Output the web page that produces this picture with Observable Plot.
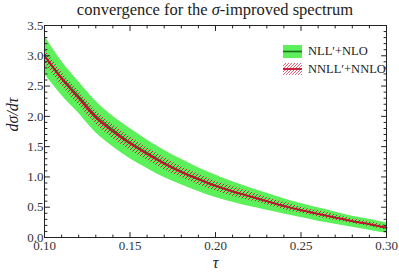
<!DOCTYPE html>
<html>
<head>
<meta charset="utf-8">
<script src="https://cdn.jsdelivr.net/npm/d3@7"></script>
<script src="https://cdn.jsdelivr.net/npm/@observablehq/plot@0.6"></script>
<style>
  body { margin: 0; background: white; }
  #wrap { position: relative; width: 399px; height: 279px; font-family: "Liberation Serif", "DejaVu Serif", serif; color: #222; }
  #title { position: absolute; left: 0; top: 0; width: 399px; height: 20px; line-height: 20px; box-sizing: border-box; padding-left: 44px; padding-right: 13px; text-align: center; font-size: 16.5px; white-space: nowrap; }
  #legend { position: absolute; left: 283px; top: 42px; font-size: 12.5px; }
  #legend .row { display: flex; align-items: center; height: 18px; }
  #legend svg { margin-right: 6px; }
</style>
</head>
<body>
<div id="wrap">
  <div id="chart"></div>
  <div id="title">convergence for the <i>σ</i>-improved spectrum</div>
  <div id="legend">
    <div class="row">
      <svg width="19" height="13">
        <rect x="0" y="0" width="19" height="13" fill="#5cf05a"></rect>
        <line x1="0" x2="19" y1="6.5" y2="6.5" stroke="#1e6e1e" stroke-width="1.6"></line>
      </svg>
      <span>NLL′+NLO</span>
    </div>
    <div class="row">
      <svg width="19" height="12">
        <defs>
          <pattern id="hatchLegend" patternUnits="userSpaceOnUse" width="3" height="3">
            <path d="M0,3 L3,0 M-1,1 L1,-1 M2,4 L4,2" stroke="#e0506a" stroke-width="0.9"></path>
          </pattern>
        </defs>
        <rect x="0" y="0" width="19" height="12" fill="url(#hatchLegend)"></rect>
        <line x1="0" x2="19" y1="6" y2="6" stroke="#c0102e" stroke-width="1.8"></line>
      </svg>
      <span>NNLL′+NNLO</span>
    </div>
  </div>
</div>
<script>
// ---- data ----
const tau = [0.10, 0.11, 0.12, 0.13, 0.14, 0.15, 0.16, 0.17, 0.18, 0.19, 0.20, 0.21, 0.22, 0.23, 0.24, 0.25, 0.26, 0.27, 0.28, 0.29, 0.30];
const nllHigh    = [3.33, 2.91, 2.57, 2.25, 2.00, 1.80, 1.61, 1.44, 1.29, 1.15, 1.03, 0.92, 0.82, 0.73, 0.64, 0.56, 0.49, 0.42, 0.35, 0.30, 0.24];
const nllLow     = [2.70, 2.35, 2.05, 1.73, 1.50, 1.30, 1.14, 0.99, 0.87, 0.76, 0.66, 0.58, 0.51, 0.45, 0.39, 0.33, 0.27, 0.22, 0.17, 0.12, 0.07];
const nllCentral = [3.00, 2.64, 2.33, 2.01, 1.78, 1.57, 1.40, 1.23, 1.09, 0.97, 0.86, 0.76, 0.68, 0.60, 0.52, 0.45, 0.39, 0.33, 0.27, 0.22, 0.16];
const nnllCentral = [3.00, 2.62, 2.30, 1.98, 1.75, 1.55, 1.38, 1.22, 1.08, 0.96, 0.85, 0.76, 0.68, 0.60, 0.52, 0.45, 0.39, 0.33, 0.27, 0.22, 0.16];
const nnllLow    = [2.89, 2.51, 2.19, 1.87, 1.64, 1.44, 1.28, 1.12, 0.99, 0.87, 0.77, 0.68, 0.61, 0.54, 0.46, 0.40, 0.34, 0.28, 0.23, 0.18, 0.12];
const nnllHigh   = [3.11, 2.73, 2.41, 2.09, 1.86, 1.66, 1.48, 1.32, 1.17, 1.05, 0.93, 0.84, 0.75, 0.66, 0.58, 0.50, 0.44, 0.38, 0.31, 0.26, 0.20];

const xMajor = [0.10, 0.15, 0.20, 0.25, 0.30];
const yMajor = [0.0, 0.5, 1.0, 1.5, 2.0, 2.5, 3.0, 3.5];
const xMinor = d3.range(10, 31).map(d => d / 100).filter(d => !xMajor.some(m => Math.abs(m - d) < 1e-9));
const yMinor = d3.range(0, 36).map(d => d / 10).filter(d => !yMajor.some(m => Math.abs(m - d) < 1e-9));

const rows = tau.map((t, i) => ({
  t, nllHigh: nllHigh[i], nllLow: nllLow[i], nllCentral: nllCentral[i],
  nnllCentral: nnllCentral[i], nnllLow: nnllLow[i], nnllHigh: nnllHigh[i]
}));

const tickShape = { draw(context, l) { context.moveTo(0, 0); context.lineTo(0, -l); } };
const tickMarks = (data, channel, frameAnchor, rotate, length) =>
  Plot.vector(data, { [channel]: d => d, frameAnchor, rotate, length, anchor: "start", shape: tickShape, stroke: "#222", strokeWidth: 1 });

const chart = Plot.plot({
  width: 399,
  height: 279,
  marginLeft: 44,
  marginRight: 13,
  marginTop: 25,
  marginBottom: 42,
  style: { fontFamily: "Liberation Serif, DejaVu Serif, serif", fontSize: "13px", background: "white", color: "#222" },
  x: { domain: [0.10, 0.30] },
  y: { domain: [0, 3.5] },
  marks: [
    Plot.areaY(rows, { x: "t", y1: "nllLow", y2: "nllHigh", fill: "#5cf05a", curve: "catmull-rom" }),
    Plot.lineY(rows, { x: "t", y: "nllCentral", stroke: "#1e6e1e", strokeWidth: 1.5, curve: "catmull-rom" }),
    Plot.areaY(rows, { x: "t", y1: "nnllLow", y2: "nnllHigh", fill: "url(#hatchBand)", curve: "catmull-rom" }),
    Plot.lineY(rows, { x: "t", y: "nnllCentral", stroke: "#c0102e", strokeWidth: 1.8, curve: "catmull-rom" }),
    Plot.frame({ stroke: "#222", strokeWidth: 1 }),
    tickMarks(yMajor, "y", "left", 90, 5),
    tickMarks(yMinor, "y", "left", 90, 2.5),
    tickMarks(yMajor, "y", "right", -90, 5),
    tickMarks(yMinor, "y", "right", -90, 2.5),
    tickMarks(xMajor, "x", "bottom", 0, 5),
    tickMarks(xMinor, "x", "bottom", 0, 2.5),
    tickMarks(xMajor, "x", "top", 180, 5),
    tickMarks(xMinor, "x", "top", 180, 2.5),
    Plot.axisY(yMajor, { tickSize: 0, tickPadding: 1, tickFormat: d3.format(".1f"), label: null, fill: "#333" }),
    Plot.axisX(xMajor, { tickSize: 0, tickPadding: 3, tickFormat: d3.format(".2f"), label: null, fill: "#333" }),
    Plot.text(["dσ/dτ"], { frameAnchor: "left", rotate: -90, dx: -32, fontStyle: "italic", fontSize: 16, fill: "#222" }),
    Plot.text(["τ"], { frameAnchor: "bottom", dy: 30, fontStyle: "italic", fontSize: 16, fill: "#222" })
  ]
});

// hatch pattern for the NNLL' band ("/" lines crossing the falling curve)
const defs = d3.select(chart).insert("defs", ":first-child");
defs.append("pattern")
  .attr("id", "hatchBand")
  .attr("patternUnits", "userSpaceOnUse")
  .attr("width", 4).attr("height", 4)
  .append("path")
  .attr("d", "M0,4 L4,0 M-1,1 L1,-1 M3,5 L5,3")
  .attr("stroke", "#c8203c")
  .attr("stroke-width", 1);

document.getElementById("chart").appendChild(chart);
</script>
</body>
</html>
